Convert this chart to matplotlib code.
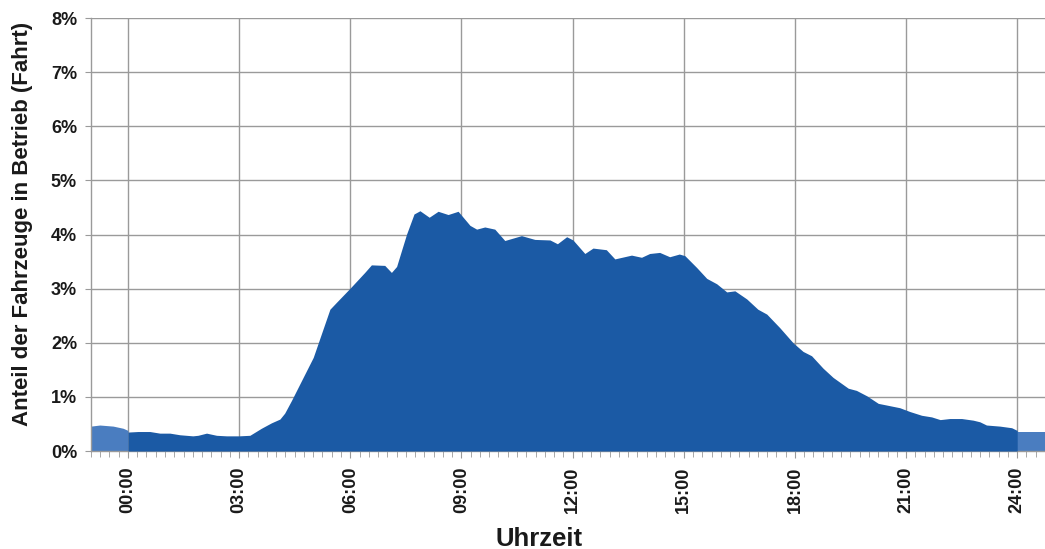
import numpy as np
import matplotlib
matplotlib.use('Agg')
import matplotlib.pyplot as plt
from matplotlib.ticker import MultipleLocator, FuncFormatter

plt.rcParams['font.family'] = ['Liberation Sans', 'DejaVu Sans']

# share of vehicles in operation (%) over the day
hours = [0.0, 0.27, 0.59, 0.86, 1.13, 1.4, 1.75, 1.89, 2.12, 2.39, 2.66, 3.0,
         3.29, 3.6, 3.87, 4.1, 4.23, 4.41, 5.0, 5.45, 5.63, 6.01, 6.39, 6.57,
         6.93, 7.11, 7.25, 7.38, 7.52, 7.72, 7.88, 8.13, 8.37, 8.64, 8.91,
         9.23, 9.41, 9.63, 9.9, 10.17, 10.62, 10.98, 11.39, 11.59, 11.84,
         12.01, 12.33, 12.55, 12.91, 13.14, 13.59, 13.86, 14.08, 14.35, 14.62,
         14.88, 15.03, 15.35, 15.62, 15.89, 16.16, 16.38, 16.7, 17.0, 17.24,
         17.59, 17.95, 18.22, 18.45, 18.76, 19.03, 19.44, 19.66, 19.94, 20.25,
         20.47, 20.83, 21.1, 21.42, 21.69, 21.92, 22.18, 22.5, 22.81, 22.99,
         23.17, 23.53, 23.85, 24.0]
share = [0.35, 0.36, 0.36, 0.33, 0.33, 0.30, 0.28, 0.29, 0.33, 0.29, 0.28, 0.28,
         0.29, 0.42, 0.52, 0.59, 0.70, 0.93, 1.73, 2.62, 2.75, 3.02, 3.30, 3.44,
         3.43, 3.30, 3.41, 3.70, 4.01, 4.38, 4.44, 4.32, 4.43, 4.37, 4.43,
         4.17, 4.10, 4.14, 4.10, 3.89, 3.98, 3.91, 3.90, 3.83, 3.96,
         3.90, 3.65, 3.75, 3.72, 3.55, 3.62, 3.58, 3.65, 3.67, 3.59,
         3.64, 3.61, 3.39, 3.19, 3.09, 2.94, 2.96, 2.81, 2.62, 2.53,
         2.28, 2.00, 1.84, 1.76, 1.53, 1.36, 1.16, 1.12, 1.02, 0.88,
         0.85, 0.80, 0.73, 0.66, 0.63, 0.58, 0.60, 0.60, 0.57, 0.54,
         0.48, 0.46, 0.43, 0.38]

# wrap-around parts outside 00:00-24:00 (lighter)
pre_hours = [-1.0, -0.76, -0.4, -0.13, 0.0]
pre_share = [0.46, 0.48, 0.46, 0.42, 0.38]
post_hours = [24.0, 24.03, 24.75]
post_share = [0.36, 0.36, 0.36]

dark = '#1b5aa5'
light = '#4a7dc0'
grid_c = '#9a9a9a'

fig = plt.figure(figsize=(10.45, 5.49), dpi=100)
ax = fig.add_axes([0.087, 0.1785, 0.913, 0.7885])

ax.fill_between(pre_hours, pre_share, 0, color=light, lw=0, zorder=2)
ax.fill_between(post_hours, post_share, 0, color=light, lw=0, zorder=2)
ax.fill_between(hours, share, 0, color=dark, lw=0, zorder=3)

ax.set_xlim(-1, 24.75)
ax.set_ylim(0, 8)

ax.xaxis.set_major_locator(MultipleLocator(3))
ax.xaxis.set_minor_locator(MultipleLocator(0.25))
ax.xaxis.set_major_formatter(FuncFormatter(lambda v, p: f'{int(v):02d}:00'))
ax.yaxis.set_major_locator(MultipleLocator(1))
ax.yaxis.set_major_formatter(FuncFormatter(lambda v, p: f'{int(v)}%'))

ax.grid(True, which='major', color=grid_c, lw=1.0, zorder=0)
ax.set_axisbelow(True)

for s in ['top', 'right']:
    ax.spines[s].set_visible(False)
for s in ['left', 'bottom']:
    ax.spines[s].set_color(grid_c)
    ax.spines[s].set_linewidth(1.0)

ax.tick_params(axis='x', which='major', length=5, color=grid_c, pad=6,
               labelsize=13, rotation=90)
ax.tick_params(axis='x', which='minor', length=4, color=grid_c)
ax.tick_params(axis='y', which='major', length=4, color=grid_c, pad=6,
               labelsize=13)
for lab in ax.get_xticklabels() + ax.get_yticklabels():
    lab.set_fontweight('bold')
    lab.set_color('#1a1a1a')

ax.set_xlabel('Uhrzeit', fontsize=18.5, fontweight='bold', color='#1a1a1a')
ax.xaxis.set_label_coords(0.47, -0.175)
ax.set_ylabel('Anteil der Fahrzeuge in Betrieb (Fahrt)', fontsize=16,
              fontweight='bold', color='#1a1a1a')
ax.yaxis.set_label_coords(-0.061, 0.524)

fig.savefig('out.png', dpi=100)
